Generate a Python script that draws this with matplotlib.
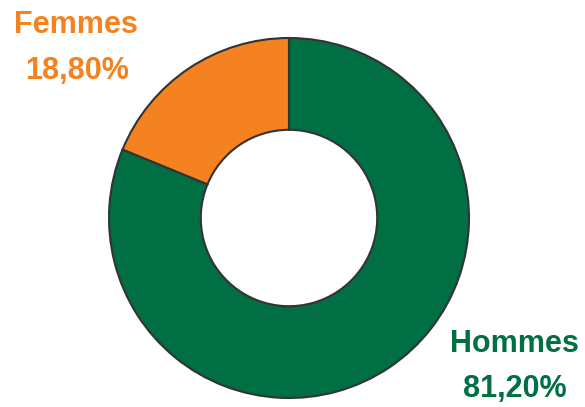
import matplotlib
matplotlib.use("Agg")
import matplotlib.pyplot as plt
from matplotlib import font_manager

labels = ["Femmes", "Hommes"]
values = [18.80, 81.20]
value_labels = ["18,80%", "81,20%"]
colors = ["#F58220", "#006F44"]

names = {f.name for f in font_manager.fontManager.ttflist}
fam = ["Liberation Sans Narrow"] if "Liberation Sans Narrow" in names else ["Liberation Sans"]
plt.rcParams['font.family'] = fam + ["DejaVu Sans"]

W, H = 585, 407
fig = plt.figure(figsize=(W / 100, H / 100), dpi=100)
cx, cy, R = 289, 218, 180
ax = fig.add_axes([(cx - R) / W, (H - cy - R) / H, 2 * R / W, 2 * R / H])
ax.pie(values, colors=colors, startangle=90, counterclock=True,
       radius=1.0, wedgeprops=dict(width=0.51, edgecolor="#333333", linewidth=1.5))
ax.set_xlim(-1, 1)
ax.set_ylim(-1, 1)
ax.set_aspect("equal")
ax.axis("off")

fs = 22
fig.text(76 / W, 1 - 25 / H, labels[0], color=colors[0], fontsize=fs, fontweight="bold", ha="center", va="center")
fig.text(77 / W, 1 - 71 / H, value_labels[0], color=colors[0], fontsize=fs, fontweight="bold", ha="center", va="center")
fig.text(514 / W, 1 - 344 / H, labels[1], color=colors[1], fontsize=fs, fontweight="bold", ha="center", va="center")
fig.text(515 / W, 1 - 389 / H, value_labels[1], color=colors[1], fontsize=fs, fontweight="bold", ha="center", va="center")

fig.savefig("out.png", dpi=100)
